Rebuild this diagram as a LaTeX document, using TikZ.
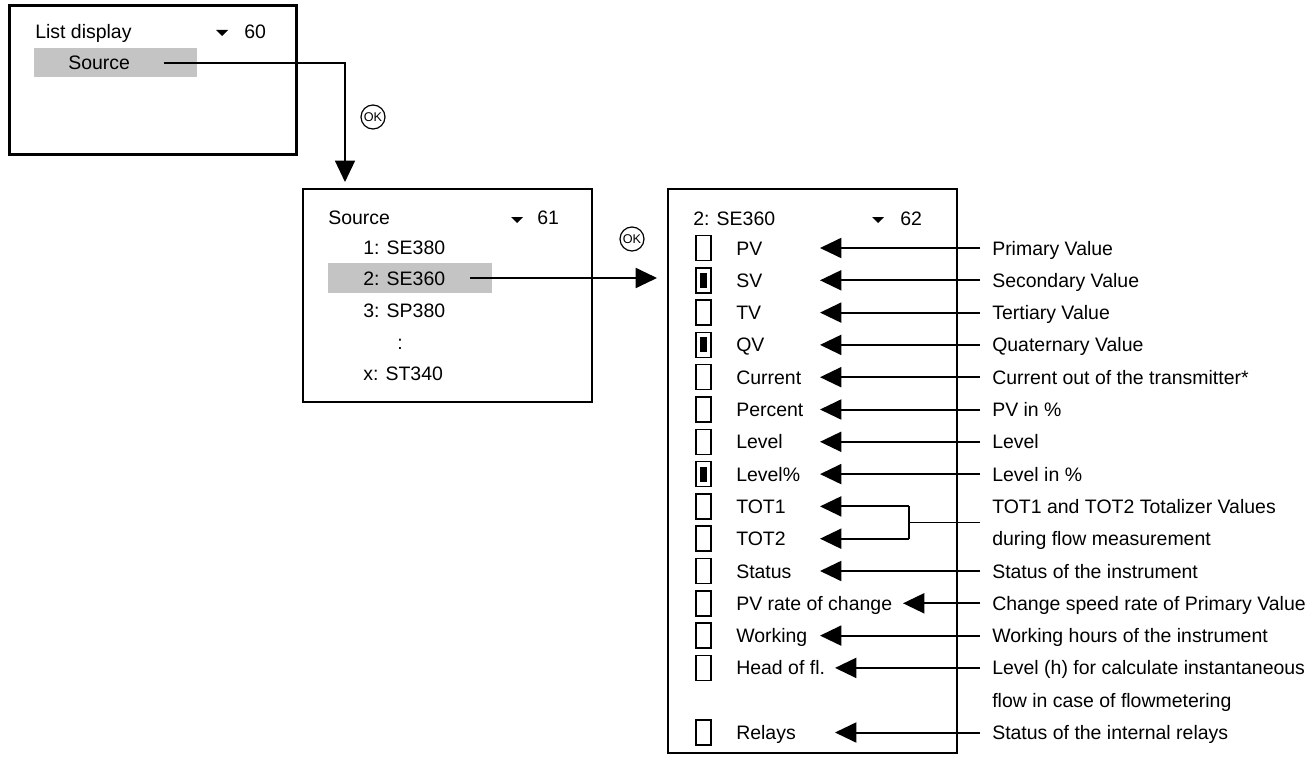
\documentclass[tikz,border=0pt]{standalone}
\usepackage{fontspec}
\setmainfont{Liberation Sans}
\usetikzlibrary{arrows.meta, positioning, calc}

\begin{document}
\begin{tikzpicture}[x=0.75pt, y=-0.75pt,
  screen/.style={draw, line width=1.5pt, inner sep=0pt},
  hilite/.style={fill=black!23, inner sep=0pt},
  txt/.style={anchor=west, inner sep=0pt, text height=10.5pt, text depth=0pt, font=\fontsize{14.6}{17}\selectfont},
  desc/.style={txt, inner xsep=9pt},
  chk/.style={draw, line width=1.1pt, minimum width=11.25pt, minimum height=18.75pt, inner sep=0pt},
  chkon/.style={chk, path picture={\fill ([xshift=-2.6pt,yshift=-5.6pt]path picture bounding box.center) rectangle ([xshift=2.6pt,yshift=5.6pt]path picture bounding box.center);}},
  okbtn/.style={draw, circle, line width=0.9pt, minimum size=18pt, inner sep=0pt, font=\fontsize{9.5}{9.5}\selectfont},
  pointer/.style={-{Triangle[length=16pt,width=15pt]}, line width=1.5pt},
  dn/.pic={\fill (-6,-3) -- (6,-3) -- (0,3) -- cycle;}
]
  \useasboundingbox (0,0) rectangle (1313,763);

  % screen 60
  \node[screen, line width=2.2pt, minimum width=215.25pt, minimum height=111.75pt] (lstbox) at (153,80) {};
  \node[hilite, minimum width=122.25pt, minimum height=21.75pt] (lsthl) at (115.5,62.5) {};
  \node[txt] (lsttitle) at (35,32) {List display};
  \pic at (222,33) {dn};
  \node[txt] (lstnum) at (244,32) {60};
  \node[txt] (lstsrc) at (68,63) {Source};

  % screen 61
  \node[screen, minimum width=216.75pt, minimum height=159.75pt] (srcbox) at (447.5,295.5) {};
  \node[hilite, minimum width=123pt, minimum height=22.5pt] (srchl) at (410,278) {};
  \node[txt] (srctitle) at (328,217) {Source};
  \pic at (517,220) {dn};
  \node[txt] (srcnum) at (537,217) {61};
  \node[txt] (s1) at (363,247) {1: SE380};
  \node[txt] (s2) at (363,278) {2: SE360};
  \node[txt] (s3) at (363,310) {3: SP380};
  \node[txt] (sdots) at (397,342) {:};
  \node[txt] (sx) at (363,373) {x: ST340};

  % screen 62
  \node[screen, minimum width=216.75pt, minimum height=423pt] (selbox) at (812.5,471) {};
  \node[txt] (sel) at (693,218) {2: SE360};
  \pic at (878,220) {dn};
  \node[txt] (selnum) at (900,218) {62};

  % OK steps
  \node[okbtn] (ok1) at (373,117) {OK};
  \node[okbtn] (ok2) at (632,239) {OK};
  \coordinate (drop) at (345,182);
  \coordinate (into) at (657,278);
  \draw[pointer, line width=1pt] ([xshift=25pt]lstsrc.east) -| (drop);
  \draw[pointer] ([xshift=18.75pt]s2.east) -- (into);

  % list entries
  \foreach \k/\lab/\mk in {0/PV/chk, 1/SV/chkon, 2/TV/chk, 3/QV/chkon, 4/Current/chk,
      5/Percent/chk, 6/Level/chk, 7/Level\%/chkon, 8/TOT1/chk, 9/TOT2/chk, 10/Status/chk,
      11/PV rate of change/chk, 12/Working/chk, 13/Head of fl./chk, 15/Relays/chk}
  {
    \node[\mk] (b\k) at (703.5,248+32.3*\k) {};
    \node[txt] (i\k) at (736,248+32.3*\k) {\lab};
  }

  % meanings
  \foreach \k/\tip/\what in {0/820/Primary Value, 1/820/Secondary Value, 2/820/Tertiary Value,
      3/820/Quaternary Value, 4/820/Current out of the transmitter*, 5/820/PV in \%,
      6/820/Level, 7/820/Level in \%, 10/820/Status of the instrument,
      11/903/Change speed rate of Primary Value, 12/820/Working hours of the instrument,
      13/835/Level (h) for calculate instantaneous, 15/835/Status of the internal relays}
  {
    \node[desc] (d\k) at (980,248+32.3*\k) {\what};
    \coordinate (t\k) at (\tip,248+32.3*\k);
    \draw[pointer] (d\k.west) -- (t\k);
  }
  \node[desc] (d14) at (980,248+32.3*14) {flow in case of flowmetering};

  % totalizers share one meaning
  \node[desc] (d8) at (980,248+32.3*8) {TOT1 and TOT2 Totalizer Values};
  \node[desc] (d9) at (980,248+32.3*9) {during flow measurement};
  \coordinate (totin) at (980,522.5);
  \coordinate (totj) at (909,522.5);
  \coordinate (tj8) at (909,248+32.3*8);
  \coordinate (tj9) at (909,248+32.3*9);
  \coordinate (t8) at (820,248+32.3*8);
  \coordinate (t9) at (820,248+32.3*9);
  \draw[line width=0.7pt] (totin) -- (totj);
  \draw[line width=1pt] (tj8) -- (tj9);
  \draw[pointer] (tj8) -- (t8);
  \draw[pointer] (tj9) -- (t9);
\end{tikzpicture}
\end{document}
